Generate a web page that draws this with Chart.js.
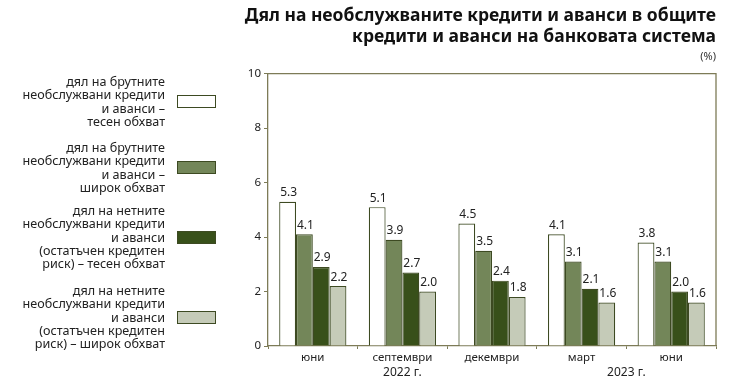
<!DOCTYPE html>
<html lang="bg">
<head>
<meta charset="utf-8">
<script src="https://cdn.jsdelivr.net/npm/chart.js@4/dist/chart.umd.min.js"></script>
<style>
  html, body { margin: 0; padding: 0; background: #fff; }
  #wrap { position: relative; width: 731px; height: 383px; }
  #chart { position: absolute; left: 0; top: 0; }
  .legend-item { position: absolute; left: 0; width: 216px; font-family: "Noto Sans", sans-serif; font-size: 12.6px; line-height: 13.3px; color: #222; }
  .legend-text { position: absolute; right: 51px; text-align: right; white-space: nowrap; }
  .legend-box { position: absolute; right: 0; width: 37px; height: 11px; border: 1px solid #3d4a22; }
</style>
</head>
<body>
<div id="wrap">
  <canvas id="chart" width="731" height="383"></canvas>
</div>
<script>
const categories = ["юни", "септември", "декември", "март", "юни"]
const years = [
  { label: "2022 г.", from: 0, to: 2 },
  { label: "2023 г.", from: 3, to: 4 },
]
const seriesLabels = [
  ["дял на брутните", "необслужвани кредити", "и аванси –", "тесен обхват"],
  ["дял на брутните", "необслужвани кредити", "и аванси –", "широк обхват"],
  ["дял на нетните", "необслужвани кредити", "и аванси", "(остатъчен кредитен", "риск) – тесен обхват"],
  ["дял на нетните", "необслужвани кредити", "и аванси", "(остатъчен кредитен", "риск) – широк обхват"],
]
const grossNarrow = [5.3, 5.1, 4.5, 4.1, 3.8]
const grossBroad = [4.1, 3.9, 3.5, 3.1, 3.1]
const netNarrow = [2.9, 2.7, 2.4, 2.1, 2.0]
const netBroad = [2.2, 2.0, 1.8, 1.6, 1.6]
const yTicks = [0, 2, 4, 6, 8, 10]

const colors = ["#ffffff", "#738659", "#38501a", "#c5cbb8"]
const edge = "#3d4a22"
const axisColor = "#7d7b57"
const font = "'Noto Sans', sans-serif"

// legend on the left, text right-aligned next to a swatch
const legendTops = [75, 141, 204, 284]
const wrap = document.getElementById("wrap")
seriesLabels.forEach((lines, i) => {
  const item = document.createElement("div")
  item.className = "legend-item"
  const h = lines.length * 13.3
  item.style.top = legendTops[i] + "px"
  item.style.height = h + "px"
  const text = document.createElement("div")
  text.className = "legend-text"
  text.innerHTML = lines.join("<br>")
  const box = document.createElement("div")
  box.className = "legend-box"
  box.style.background = colors[i]
  box.style.top = (h / 2 - 6.5) + "px"
  item.appendChild(text)
  item.appendChild(box)
  wrap.appendChild(item)
})

const frame = {
  id: "frame",
  afterDatasetsDraw(chart) {
    const { ctx, chartArea: a } = chart
    ctx.save()
    ctx.strokeStyle = axisColor
    ctx.lineWidth = 1.3
    ctx.beginPath()
    ctx.moveTo(a.left, a.top)
    ctx.lineTo(a.right, a.top)
    ctx.lineTo(a.right, a.bottom)
    ctx.stroke()
    ctx.restore()
  },
}

const valueLabels = {
  id: "valueLabels",
  afterDatasetsDraw(chart) {
    const { ctx } = chart
    ctx.save()
    ctx.font = "12px " + font
    ctx.fillStyle = "#222"
    ctx.textAlign = "center"
    ctx.textBaseline = "bottom"
    chart.data.datasets.forEach((ds, i) => {
      chart.getDatasetMeta(i).data.forEach((bar, j) => {
        ctx.fillText(ds.data[j].toFixed(1), bar.x + 1, bar.y - 3)
      })
    })
    ctx.restore()
  },
}

const yearLabels = {
  id: "yearLabels",
  afterDraw(chart) {
    const { ctx } = chart
    const x = chart.scales.x
    ctx.save()
    ctx.font = "12px " + font
    ctx.fillStyle = "#222"
    ctx.textAlign = "center"
    ctx.textBaseline = "middle"
    years.forEach((y) => {
      const cx = (x.getPixelForValue(y.from) + x.getPixelForValue(y.to)) / 2
      ctx.fillText(y.label, cx, 373)
    })
    ctx.restore()
  },
}

new Chart(document.getElementById("chart"), {
  type: "bar",
  data: {
    labels: categories,
    datasets: [grossNarrow, grossBroad, netNarrow, netBroad].map((d, i) => ({
      label: seriesLabels[i].join(" "),
      data: d,
      backgroundColor: colors[i],
      borderColor: edge,
      borderWidth: 1.2,
      barPercentage: 1,
      categoryPercentage: 0.75,
    })),
  },
  options: {
    responsive: false,
    animation: false,
    layout: { padding: { left: 238, right: 15, top: 0, bottom: 0 } },
    plugins: {
      legend: { display: false },
      tooltip: { enabled: false },
      title: {
        display: true,
        align: "end",
        text: ["Дял на необслужваните кредити и аванси в общите", "кредити и аванси на банковата система"],
        color: "#111",
        font: { family: font, size: 17.5, weight: "bold", lineHeight: 1.2 },
        padding: { top: 6, bottom: 2 },
      },
      subtitle: {
        display: true,
        align: "end",
        text: "(%)",
        color: "#333",
        font: { family: font, size: 11 },
        padding: { top: 0, bottom: 10.5 },
      },
    },
    scales: {
      x: {
        grid: { display: true, offset: true, drawOnChartArea: false, tickLength: 3, color: axisColor },
        border: { color: axisColor, width: 1.3 },
        ticks: { color: "#222", font: { family: font, size: 11.5 }, padding: 2 },
        afterFit: (s) => { s.height = 37 },
      },
      y: {
        min: 0,
        max: 10,
        afterBuildTicks: (s) => { s.ticks = yTicks.map((v) => ({ value: v })) },
        grid: { display: true, drawOnChartArea: false, tickLength: 4, color: axisColor },
        border: { color: axisColor, width: 1.3 },
        ticks: { color: "#222", font: { family: font, size: 11.5 }, padding: 3 },
        afterFit: (s) => { s.width = 30 },
      },
    },
  },
  plugins: [frame, valueLabels, yearLabels],
})
</script>
</body>
</html>
